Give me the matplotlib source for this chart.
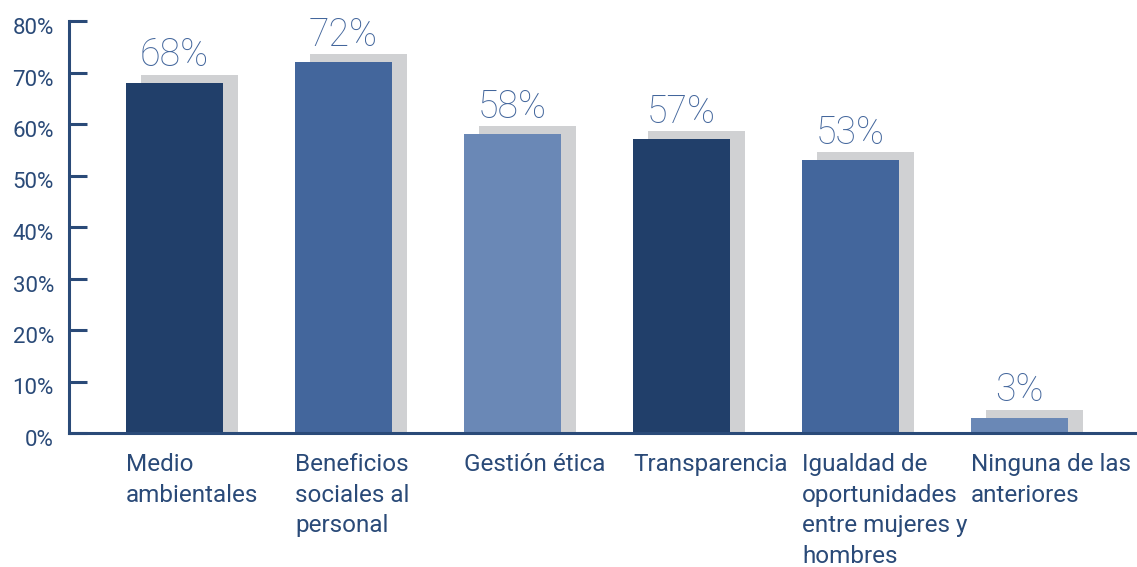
import matplotlib
matplotlib.use("Agg")
import matplotlib.pyplot as plt
import matplotlib.transforms as mtransforms

categories = ["Medio\nambientales", "Beneficios\nsociales al\npersonal", "Gestión ética",
              "Transparencia", "Igualdad de\noportunidades\nentre mujeres y\nhombres",
              "Ninguna de las\nanteriores"]
values = [68, 72, 58, 57, 53, 3]
value_labels = ["68%", "72%", "58%", "57%", "53%", "3%"]
yticks = [0, 10, 20, 30, 40, 50, 60, 70, 80]
ytick_labels = ["0%", "10%", "20%", "30%", "40%", "50%", "60%", "70%", "80%"]

bar_colors = ["#213f6a", "#43669c", "#6a88b6", "#213f6a", "#43669c", "#6a88b6"]
shadow_color = "#d0d1d3"
axis_color = "#2a4a78"
text_color = "#2a4a78"

fig = plt.figure(figsize=(11.37, 5.67), dpi=100)
ax = fig.add_axes([69/1137, 1-433/567, 1-69/1137, (433-21)/567])

x = list(range(len(values)))
width = 0.574
dx = 0.089
dy = 1.55
ax.bar([i + dx for i in x], [v + dy for v in values], width=width, color=shadow_color, zorder=1)
ax.bar(x, values, width=width, color=bar_colors, zorder=2)

for i, (v, lab) in enumerate(zip(values, value_labels)):
    ax.text(i, v + 3.2, lab, ha="center", va="baseline", fontsize=27,
            family="Roboto", fontweight="light", color="#43669c")

ax.set_xlim(-0.624, 5.695)
ax.set_ylim(0, 80)
ax.set_yticks(yticks)
ax.set_yticklabels(ytick_labels, family="Roboto", fontsize=16, color=text_color)
ax.set_xticks([])
for s in ["top", "right"]:
    ax.spines[s].set_visible(False)
for s in ["left", "bottom"]:
    ax.spines[s].set_color(axis_color)
    ax.spines[s].set_linewidth(2.2)
ax.tick_params(axis="y", direction="in", length=13, width=2.2, color=axis_color, pad=-0)
offset = mtransforms.ScaledTranslation(0, -5/100, fig.dpi_scale_trans)
for t in ax.get_yticklabels():
    t.set_x(-0.014)
    t.set_transform(t.get_transform() + offset)

for i, c in enumerate(categories):
    ax.text(i - width/2, -3.9, c, ha="left", va="top", fontsize=17.5, family="Roboto",
            color=text_color, linespacing=1.42)

fig.savefig("out.png", dpi=100)
